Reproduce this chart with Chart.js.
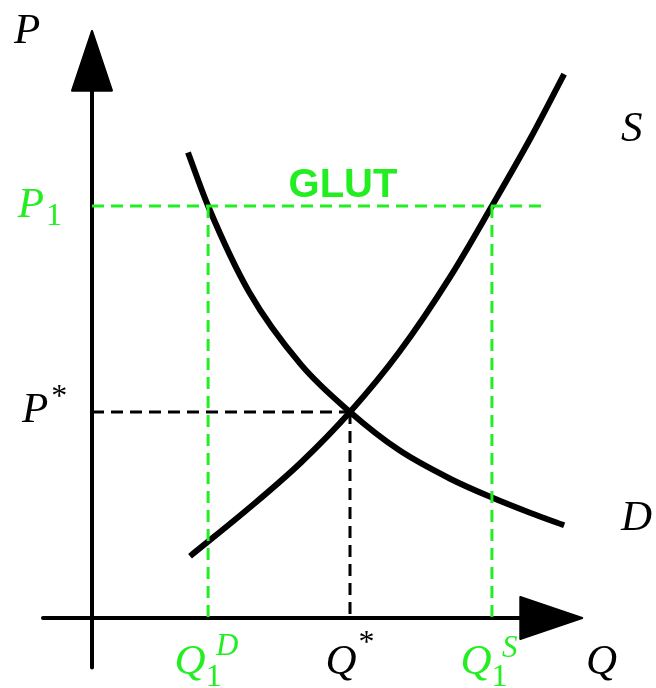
<!DOCTYPE html>
<html lang="en">
<head>
<meta charset="UTF-8">
<title>Glut</title>
<script src="https://cdn.jsdelivr.net/npm/chart.js"></script>
<style>
    body { margin: 0; background: #fff; }
    canvas { display: block; }
</style>
</head>
<body>
<canvas id="glutChart" width="656" height="688"></canvas>
<script>
// equilibrium and the price floor
const qStar = 10;
const pStar = 10;
const p1 = 20;
const q1Demand = 4.5;
const q1Supply = 15.5;

// curves (Q, P)
const demandQ = [3.72, 4.5, 6.1, 8.1, 10, 11.9, 13.9, 15.5, 17.0, 18.3];
const demandP = [22.6, 20, 15.8, 12.3, 10, 8.15, 6.75, 5.85, 5.1, 4.5];
const supplyQ = [3.8, 6.1, 8.1, 10, 11.9, 13.9, 15.5, 17.0, 18.3];
const supplyP = [3.0, 5.35, 7.55, 10, 12.9, 16.6, 20, 23.3, 26.4];

const GREEN = '#22ee22';
const FAMILY = 'Liberation Serif';

const toPoints = (xs, ys) => xs.map((x, i) => ({ x: x, y: ys[i] }));

const dashed = (pts, color) => ({
    data: pts,
    showLine: true,
    borderColor: color,
    borderWidth: 3,
    borderDash: [12, 7],
    pointRadius: 0,
    order: 0
});

const curve = (pts) => ({
    data: pts,
    showLine: true,
    borderColor: '#000',
    borderWidth: 6,
    cubicInterpolationMode: 'monotone',
    pointRadius: 0,
    order: 1
});

// axes with arrow heads
const axesPlugin = {
    id: 'axes',
    beforeDatasetsDraw(chart) {
        const ctx = chart.ctx;
        const xs = chart.scales.x, ys = chart.scales.y;
        const ax = xs.getPixelForValue(0), ay = ys.getPixelForValue(0);
        ctx.save();
        ctx.strokeStyle = '#000';
        ctx.fillStyle = '#000';
        ctx.lineWidth = 4;
        ctx.lineCap = 'round';
        ctx.beginPath();
        ctx.moveTo(xs.getPixelForValue(-1.9), ay);
        ctx.lineTo(xs.getPixelForValue(16.8), ay);
        ctx.moveTo(ax, ys.getPixelForValue(-2.4));
        ctx.lineTo(ax, ys.getPixelForValue(25.8));
        ctx.stroke();
        ctx.lineJoin = 'round';
        ctx.lineWidth = 2;
        // vertical arrow
        const base = ys.getPixelForValue(25.6), tip = ys.getPixelForValue(28.5);
        ctx.beginPath();
        ctx.moveTo(ax - 20, base);
        ctx.lineTo(ax, tip);
        ctx.lineTo(ax + 20, base);
        ctx.closePath();
        ctx.fill();
        ctx.stroke();
        // horizontal arrow
        const hb = xs.getPixelForValue(16.6), ht = xs.getPixelForValue(19.0);
        ctx.beginPath();
        ctx.moveTo(hb, ay - 21);
        ctx.lineTo(ht, ay);
        ctx.lineTo(hb, ay + 21);
        ctx.closePath();
        ctx.fill();
        ctx.stroke();
        ctx.restore();
    }
};

function drawPieces(ctx, pieces, x, y, align) {
    let total = 0;
    pieces.forEach(p => { ctx.font = p.font; p.w = ctx.measureText(p.text).width; total += p.w + (p.dx || 0); });
    let cx = align === 'right' ? x - total : align === 'center' ? x - total / 2 : x;
    pieces.forEach(p => {
        ctx.font = p.font;
        cx += p.dx || 0;
        ctx.fillText(p.text, cx, y + (p.dy || 0));
        cx += p.w;
    });
}

const labelsPlugin = {
    id: 'labels',
    afterDatasetsDraw(chart) {
        const ctx = chart.ctx;
        const xs = chart.scales.x, ys = chart.scales.y;
        const ax = xs.getPixelForValue(0);
        const big = 'italic 43px ' + FAMILY;
        const bigR = '32px ' + FAMILY;
        const supI = 'italic 31px ' + FAMILY;
        const star = '32px ' + FAMILY;
        ctx.save();
        ctx.textBaseline = 'alphabetic';

        ctx.fillStyle = '#000';
        drawPieces(ctx, [{ text: 'P', font: big }], ax - 78, 43, 'left');
        drawPieces(ctx, [{ text: 'P', font: big }, { text: '*', font: star, dx: 3, dy: -16 }],
            ax - 70, ys.getPixelForValue(pStar) + 10, 'left');
        drawPieces(ctx, [{ text: 'Q', font: big }, { text: '*', font: star, dx: 2, dy: -22 }],
            xs.getPixelForValue(qStar), 674, 'center');
        drawPieces(ctx, [{ text: 'Q', font: big }], 586, 674, 'left');
        drawPieces(ctx, [{ text: 'S', font: big }], 621, 141, 'left');
        drawPieces(ctx, [{ text: 'D', font: big }], 621, 530, 'left');

        ctx.fillStyle = GREEN;
        drawPieces(ctx, [{ text: 'P', font: big }, { text: '1', font: bigR, dx: 2, dy: 8 }],
            ax - 30, ys.getPixelForValue(p1) + 11, 'right');
        drawPieces(ctx, [{ text: 'Q', font: big }, { text: '1', font: bigR, dy: 12 }],
            xs.getPixelForValue(q1Demand) - 10, 674, 'center');
        drawPieces(ctx, [{ text: 'D', font: supI }], xs.getPixelForValue(q1Demand) + 8, 655, 'left');
        drawPieces(ctx, [{ text: 'Q', font: big }, { text: '1', font: bigR, dy: 12 }],
            xs.getPixelForValue(q1Supply) - 8, 674, 'center');
        drawPieces(ctx, [{ text: 'S', font: supI }], xs.getPixelForValue(q1Supply) + 10, 657, 'left');

        ctx.font = 'bold 40px Liberation Sans';
        ctx.textAlign = 'center';
        ctx.fillText('GLUT', (xs.getPixelForValue(q1Demand) + xs.getPixelForValue(q1Supply)) / 2 - 7, 197);
        ctx.restore();
    }
};

new Chart(document.getElementById('glutChart'), {
    type: 'scatter',
    data: {
        datasets: [
            dashed([{ x: 0, y: p1 }, { x: 17.56, y: p1 }], GREEN),
            dashed([{ x: q1Demand, y: p1 }, { x: q1Demand, y: 0 }], GREEN),
            dashed([{ x: q1Supply, y: p1 }, { x: q1Supply, y: 0 }], GREEN),
            dashed([{ x: 0, y: pStar }, { x: qStar, y: pStar }], '#000'),
            dashed([{ x: qStar, y: pStar }, { x: qStar, y: 0 }], '#000'),
            curve(toPoints(demandQ, demandP)),
            curve(toPoints(supplyQ, supplyP))
        ]
    },
    options: {
        responsive: false,
        animation: false,
        layout: { padding: 0 },
        plugins: { legend: { display: false }, tooltip: { enabled: false } },
        scales: {
            x: { type: 'linear', display: false, min: -3.566, max: 21.86 },
            y: { type: 'linear', display: false, min: -3.398, max: 30 }
        }
    },
    plugins: [axesPlugin, labelsPlugin]
});
</script>
</body>
</html>
